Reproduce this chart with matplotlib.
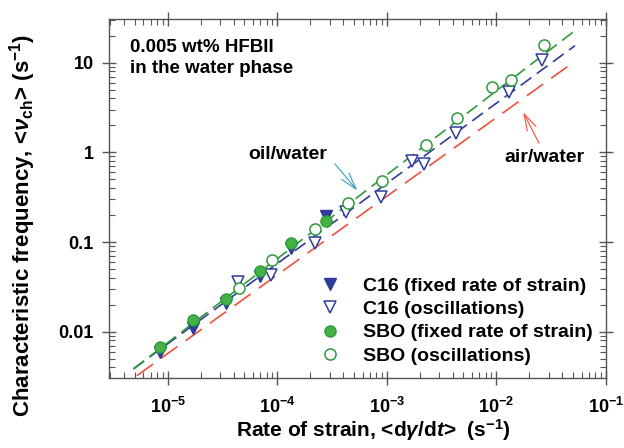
import matplotlib
matplotlib.use("Agg")
import matplotlib.pyplot as plt
from matplotlib.ticker import LogLocator, NullFormatter, FixedLocator

plt.rcParams['font.family'] = ['Liberation Sans', 'DejaVu Sans']
plt.rcParams['font.weight'] = 'bold'
plt.rcParams['axes.labelweight'] = 'bold'
plt.rcParams['mathtext.fontset'] = 'custom'
plt.rcParams['mathtext.rm'] = 'Liberation Sans:bold'
plt.rcParams['mathtext.it'] = 'Liberation Sans:italic'
plt.rcParams['mathtext.bf'] = 'Liberation Sans:bold'

# C16 (oil) data
c16_fixed_x = [8.5e-6, 1.7e-5, 3.4e-5, 6.9e-5, 1.34e-4, 2.77e-4]
c16_fixed_y = [0.0059, 0.011, 0.0207, 0.042, 0.086, 0.197]
c16_osc_x = [4.4e-5, 8.8e-5, 2.21e-4, 4.2e-4, 8.9e-4, 1.7e-3, 2.17e-3, 4.3e-3, 1.31e-2, 2.6e-2]
c16_osc_y = [0.0355, 0.043, 0.097, 0.214, 0.32, 0.81, 0.75, 1.63, 4.67, 10.8]

# SBO (oil) data
sbo_fixed_x = [8.5e-6, 1.7e-5, 3.4e-5, 6.9e-5, 1.34e-4, 2.77e-4]
sbo_fixed_y = [0.0067, 0.0134, 0.0232, 0.047, 0.098, 0.17]
sbo_osc_x = [4.5e-5, 8.9e-5, 2.2e-4, 4.4e-4, 8.95e-4, 2.28e-3, 4.4e-3, 9.1e-3, 1.37e-2, 2.69e-2]
sbo_osc_y = [0.0305, 0.063, 0.14, 0.27, 0.475, 1.22, 2.39, 5.4, 6.46, 15.7]

# fitted lines (end points)
sbo_fit_x = [4.87e-6, 0.0521]
sbo_fit_y = [0.00384, 22.8]
c16_fit_x = [4.87e-6, 0.0521]
c16_fit_y = [0.00384, 15.5]
air_fit_x = [5.24e-6, 0.0503]
air_fit_y = [0.00323, 10.08]

BLUE = '#2f3c9c'
GREEN = '#45b245'
DKGREEN = '#2e9a3e'
RED = '#f0503c'
TEAL = '#3aa0c0'

fig = plt.figure(figsize=(6.24, 4.48), dpi=100)
ax = fig.add_axes([0.1747, 0.157, 0.7966, 0.8006])

ax.plot(air_fit_x, air_fit_y, color=RED, lw=1.2, dashes=(12, 6))
ax.plot(c16_fit_x, c16_fit_y, color=BLUE, lw=1.2, dashes=(8, 4))
ax.plot(sbo_fit_x, sbo_fit_y, color=DKGREEN, lw=1.2, dashes=(8, 4))

ax.plot(c16_fixed_x, c16_fixed_y, 'v', color=BLUE, ms=8, ls='none',
        label='C16 (fixed rate of strain)')
ax.plot(c16_osc_x, c16_osc_y, 'v', mfc='white', mec=BLUE, mew=1.1, ms=8, ls='none',
        label='C16 (oscillations)')
ax.plot(sbo_fixed_x, sbo_fixed_y, 'o', mfc=GREEN, mec=DKGREEN, ms=8, ls='none',
        label='SBO (fixed rate of strain)')
ax.plot(sbo_osc_x, sbo_osc_y, 'o', mfc='white', mec=DKGREEN, mew=1.1, ms=8, ls='none',
        label='SBO (oscillations)')

ax.set_xscale('log')
ax.set_yscale('log')
ax.set_xlim(2.92e-6, 0.1)
ax.set_ylim(0.00307, 30.7)

ax.xaxis.set_major_locator(FixedLocator([1e-5, 1e-4, 1e-3, 1e-2, 1e-1]))
ax.yaxis.set_major_locator(FixedLocator([0.01, 0.1, 1, 10]))
ax.set_yticklabels(['0.01', '0.1', '1', '10'])
ax.xaxis.set_minor_locator(LogLocator(base=10, subs=range(2, 10), numticks=20))
ax.yaxis.set_minor_locator(LogLocator(base=10, subs=range(2, 10), numticks=20))
ax.xaxis.set_minor_formatter(NullFormatter())
ax.yaxis.set_minor_formatter(NullFormatter())
ax.tick_params(which='major', direction='inout', length=10, width=1,
               top=True, right=True, labelsize=13, pad=6, color='#555555')
ax.tick_params(axis='x', which='major', pad=9)
ax.tick_params(which='minor', direction='in', length=4, width=0.8,
               top=True, right=True, color='#555555')
for s in ax.spines.values():
    s.set_color('#555555')
    s.set_linewidth(1.0)

ax.set_xlabel(r'Rate of strain, <d$\it{\gamma}$/d$\it{t}$>  (s$^{-1}$)', fontsize=15)
ax.set_ylabel(r'Characteristic frequency, <$\it{\nu}_{\rm ch}$> (s$^{-1}$)', fontsize=16)
ax.xaxis.set_label_coords(0.531, -0.11)
ax.yaxis.set_label_coords(-0.142, 0.425)

ax.text(0.042, 0.945, '0.005 wt% HFBII\nin the water phase', transform=ax.transAxes,
        va='top', ha='left', fontsize=13.5, linespacing=1.35)

ax.text(0.36, 0.621, 'oil/water', transform=ax.transAxes, ha='center', va='center', fontsize=14)
ax.annotate('', xy=(5.58e-4, 0.355), xytext=(3.23e-4, 0.788),
            arrowprops=dict(arrowstyle='->,head_length=1.2,head_width=0.35', color=TEAL, lw=0.8))
ax.text(0.875, 0.615, 'air/water', transform=ax.transAxes, ha='center', va='center', fontsize=14)
ax.annotate('', xy=(0.01706, 2.99), xytext=(0.02506, 1.188),
            arrowprops=dict(arrowstyle='->,head_length=1.2,head_width=0.35', color=RED, lw=0.8))

ax.legend(loc='upper left', bbox_to_anchor=(0.405, 0.308), frameon=False, fontsize=14,
          handletextpad=1.2, labelspacing=0.3, borderpad=0, handlelength=1.0)

fig.savefig('out.png', dpi=100)
